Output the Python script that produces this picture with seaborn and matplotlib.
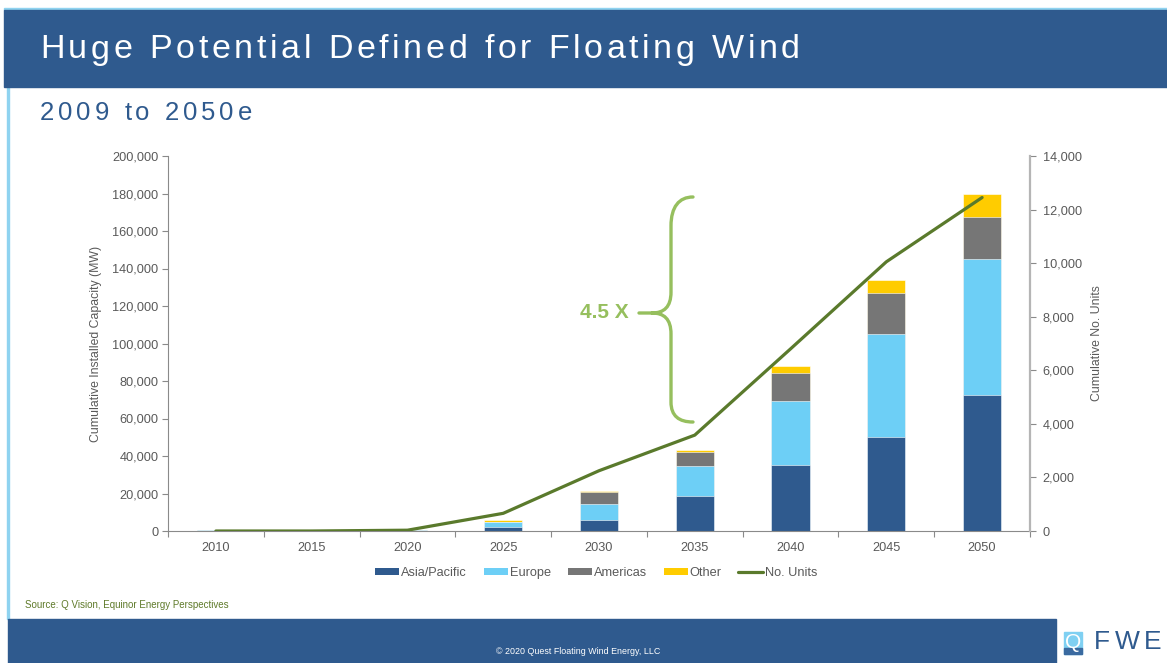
import numpy as np
import matplotlib
matplotlib.use("Agg")
import matplotlib.pyplot as plt
import seaborn as sns
from matplotlib.patches import Rectangle, Patch, PathPatch
from matplotlib.lines import Line2D
from matplotlib.path import Path
from matplotlib.ticker import FuncFormatter, MultipleLocator, FixedLocator

# ---------------- data ----------------
years = ["2010", "2015", "2020", "2025", "2030", "2035", "2040", "2045", "2050"]
asia_pacific = [0, 0, 0, 2300, 6000, 18700, 35200, 50300, 72400]
europe = [300, 300, 500, 2300, 8200, 16100, 34300, 54700, 72500]
americas = [0, 0, 0, 400, 6400, 7200, 14900, 21900, 22700]
other = [0, 0, 0, 700, 700, 1200, 3600, 7000, 12000]
units = [0, 0, 30, 660, 2250, 3580, 6800, 10050, 12450]

series_names = ["Asia/Pacific", "Europe", "Americas", "Other"]
line_name = "No. Units"
title = "Huge Potential Defined for Floating Wind"
subtitle = "2009 to 2050e"
y_label = "Cumulative Installed Capacity (MW)"
y2_label = "Cumulative No. Units"
annotation = "4.5 X"
source = "Source: Q Vision, Equinor Energy Perspectives"
copyright_txt = "\u00a9 2020 Quest Floating Wind Energy, LLC"

# ---------------- style ----------------
C_DARK = "#2f5a8e"
C_LIGHT = "#6dcff6"
C_GRAY = "#767676"
C_YELLOW = "#ffcc00"
C_LINE = "#5a7a2c"
C_BRACE = "#96bf5e"
C_TXT = "#595959"
FS_TICK = 9.2
FS_LAB = 8.8

sns.set_style("white")
plt.rcParams["font.family"] = ["Liberation Sans", "DejaVu Sans"]

W, H = 1167, 663
fig = plt.figure(figsize=(W / 100, H / 100), dpi=100)
renderer = fig.canvas.get_renderer()


def fx(x):
    return x / W


def fy(y):
    return 1 - y / H


def text_width(s, **kw):
    t = fig.text(0, 0, s, **kw)
    w = t.get_window_extent(renderer=renderer).width
    t.remove()
    return w


def spaced_text(x0, x1, y, s, **kw):
    """Draw s with letter spacing so that it spans pixel x0..x1."""
    natural = text_width(s, **kw)
    extra = (x1 - x0 - natural) / max(len(s) - 1, 1)
    for i, ch in enumerate(s):
        if ch == " ":
            continue
        pos = text_width(s[: i + 1], **kw) - text_width(ch, **kw)
        fig.text(fx(x0 + pos + i * extra), fy(y), ch, ha="left", va="center", **kw)


# header / footer decoration
fig.patches.append(Rectangle((fx(4), fy(9.5)), 1, 1.5 / H, transform=fig.transFigure,
                             color="#8fd3f0", zorder=0))
fig.patches.append(Rectangle((fx(4), fy(87)), 1, 77 / H, transform=fig.transFigure,
                             color=C_DARK, zorder=1))
fig.patches.append(Rectangle((fx(7), fy(619)), 2 / W, 532 / H, transform=fig.transFigure,
                             color="#8fd3f0", zorder=0))
fig.patches.append(Rectangle((fx(8), 0), (1056 - 8) / W, 44 / H, transform=fig.transFigure,
                             color=C_DARK, zorder=1))

spaced_text(40, 800, 50, title, color="white", fontsize=24.5, zorder=3)
spaced_text(40, 252, 113, subtitle, color=C_DARK, fontsize=18.5)
fig.text(fx(25), fy(605), source, color="#5f7a2a", fontsize=7, va="center", ha="left")
fig.text(fx(578), fy(652), copyright_txt, color="white", fontsize=6.4, va="center",
         ha="center", zorder=3)

# logo
fig.patches.append(Rectangle((fx(1064), fy(654)), 18 / W, 22 / H, transform=fig.transFigure,
                             color="#7fd0f2", zorder=2))
fig.patches.append(Rectangle((fx(1064), fy(654)), 18 / W, 6 / H, transform=fig.transFigure,
                             color="#3a6aa0", zorder=2))
fig.text(fx(1073), fy(643), "Q", color="white", fontsize=15, va="center", ha="center",
         zorder=3)
spaced_text(1094, 1162, 642, "FWE", color=C_DARK, fontsize=19)

# ---------------- chart ----------------
ax = fig.add_axes([fx(168), fy(531), (1030 - 168) / W, (531 - 156) / H])

a = np.array(asia_pacific, dtype=float)
e = np.array(europe, dtype=float)
m = np.array(americas, dtype=float)
o = np.array(other, dtype=float)
layers = [
    (a + e + m + o, C_YELLOW),
    (a + e + m, C_GRAY),
    (a + e, C_LIGHT),
    (a, C_DARK),
]
for vals, col in layers:
    sns.barplot(x=years, y=vals, color=col, saturation=1, width=0.4, errorbar=None,
                edgecolor="white", linewidth=0.4, ax=ax)

ax.set_ylim(0, 200000)
ax.set_xlim(-0.5, len(years) - 0.5)
ax.yaxis.set_major_locator(MultipleLocator(20000))
ax.yaxis.set_major_formatter(FuncFormatter(lambda v, p: f"{int(v):,}"))
ax.set_ylabel(y_label, color=C_TXT, fontsize=FS_LAB, labelpad=7)
ax.set_xlabel("")
for s in ["top", "right"]:
    ax.spines[s].set_visible(False)
for s in ["left", "bottom"]:
    ax.spines[s].set_color("#8a8a8a")
    ax.spines[s].set_linewidth(0.8)
ax.tick_params(axis="y", direction="out", length=4, width=0.8, color="#8a8a8a",
               labelcolor=C_TXT, labelsize=FS_TICK, pad=3, left=True)
ax.tick_params(axis="x", which="major", length=0, labelcolor=C_TXT, labelsize=FS_TICK,
               pad=8)
ax.xaxis.set_minor_locator(FixedLocator(np.arange(len(years) + 1) - 0.5))
ax.tick_params(axis="x", which="minor", direction="out", length=4, width=0.8,
               color="#8a8a8a", bottom=True)
ax.grid(False)

ax2 = ax.twinx()
sns.lineplot(x=np.arange(len(years)), y=units, color=C_LINE, linewidth=2.3, ax=ax2,
             legend=False)
ax2.set_ylim(0, 14000)
ax2.set_xlim(-0.5, len(years) - 0.5)
ax2.yaxis.set_major_locator(MultipleLocator(2000))
ax2.yaxis.set_major_formatter(FuncFormatter(lambda v, p: f"{int(v):,}"))
ax2.set_ylabel(y2_label, color=C_TXT, fontsize=FS_LAB, labelpad=7)
for s in ["top", "left", "bottom"]:
    ax2.spines[s].set_visible(False)
ax2.spines["right"].set_color("#b5b5b5")
ax2.spines["right"].set_linewidth(1.6)
ax2.tick_params(axis="y", direction="out", length=4, width=0.8, color="#8a8a8a",
                labelcolor=C_TXT, labelsize=FS_TICK, pad=5, right=True)
ax2.grid(False)

# brace annotation (figure pixel coords)
def P(x, y):
    return (fx(x), fy(y))

verts = [P(693, 197), P(679, 197), P(671, 207), P(671, 226),
         P(671, 292), P(671, 307), P(664, 313), P(652, 313), P(639, 313),
         P(652, 313), P(664, 313), P(671, 319), P(671, 334),
         P(671, 402), P(671, 416), P(679, 422), P(693, 422)]
codes = [Path.MOVETO, Path.CURVE4, Path.CURVE4, Path.CURVE4,
         Path.LINETO, Path.CURVE4, Path.CURVE4, Path.CURVE4, Path.LINETO,
         Path.MOVETO, Path.CURVE4, Path.CURVE4, Path.CURVE4,
         Path.LINETO, Path.CURVE4, Path.CURVE4, Path.CURVE4]
fig.patches.append(PathPatch(Path(verts, codes), transform=fig.transFigure, fill=False,
                             edgecolor=C_BRACE, linewidth=2.4, capstyle="round",
                             zorder=5))
fig.text(fx(629), fy(313), annotation, color=C_BRACE, fontsize=15, fontweight="bold",
         ha="right", va="center")

# legend
handles = [Patch(facecolor=c, edgecolor="none") for c in [C_DARK, C_LIGHT, C_GRAY, C_YELLOW]]
handles.append(Line2D([0], [0], color=C_LINE, linewidth=2.3))
leg = fig.legend(handles, series_names + [line_name], loc="center",
                 bbox_to_anchor=(fx(596), fy(573)), ncol=5, frameon=False,
                 fontsize=FS_TICK, handlelength=1.9, handleheight=0.5, handletextpad=0.15,
                 columnspacing=1.3)
for t in leg.get_texts():
    t.set_color(C_TXT)

fig.savefig("out.png", dpi=100)
